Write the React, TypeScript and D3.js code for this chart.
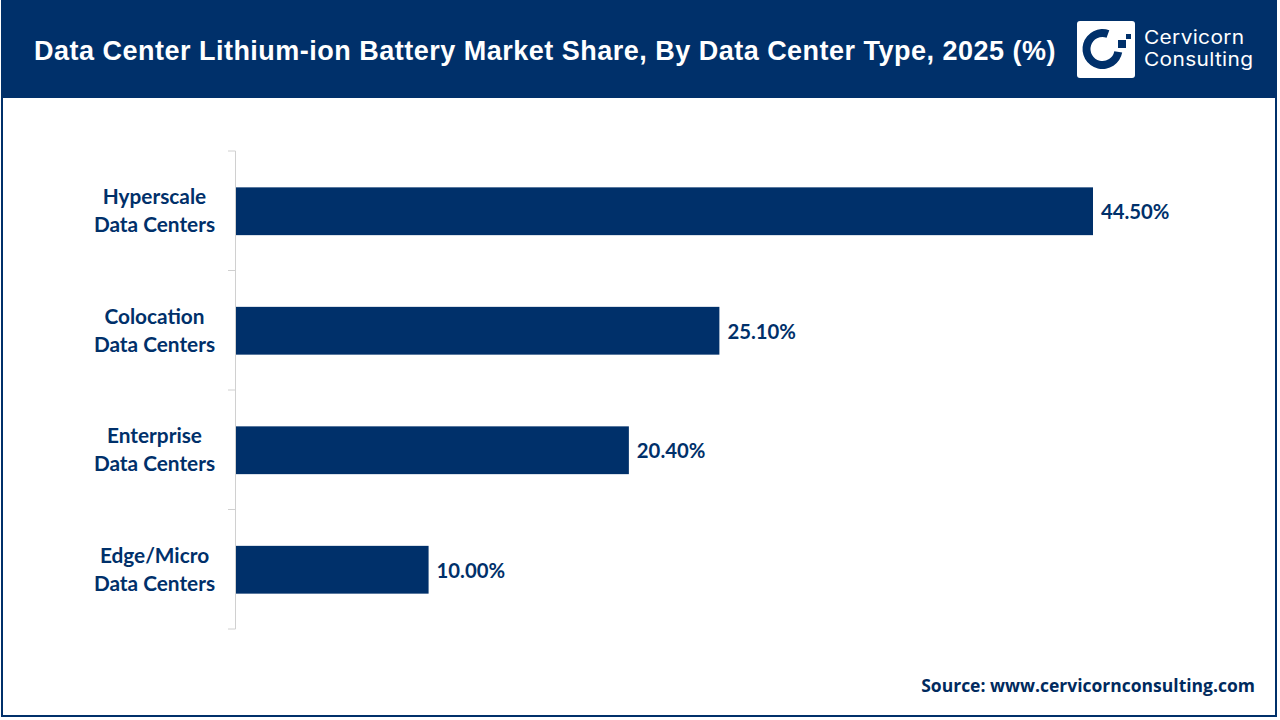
import { useEffect, useRef } from 'react';
import * as d3 from 'd3';

const titleText = 'Data Center Lithium-ion Battery Market Share, By Data Center Type, 2025 (%)';
const sourceText = 'Source: www.cervicornconsulting.com';
const logoLines = ['Cervicorn', 'Consulting'];
const categories = ['Hyperscale|Data Centers', 'Colocation|Data Centers', 'Enterprise|Data Centers', 'Edge/Micro|Data Centers'];
const shares = [44.5, 25.1, 20.4, 10.0];
const navy = '#00306a';
const labelFont = 'Lato, Carlito, sans-serif';

export default function App() {
  const svgRef = useRef<SVGSVGElement>(null);

  useEffect(() => {
    if (!svgRef.current) return;
    const svg = d3.select(svgRef.current);
    svg.selectAll('*').remove();

    // Frame and header band
    svg.append('rect').attr('width', 1280).attr('height', 720).attr('fill', '#fff');
    svg.append('rect')
      .attr('x', 2).attr('y', 1).attr('width', 1274).attr('height', 715)
      .attr('fill', 'none').attr('stroke', navy).attr('stroke-width', 2);
    svg.append('rect').attr('x', 1).attr('y', 0).attr('width', 1276).attr('height', 98).attr('fill', navy);

    svg.append('text')
      .attr('x', 34).attr('y', 59.5)
      .attr('fill', '#fff')
      .attr('font-family', 'Liberation Sans, Arial, sans-serif')
      .attr('font-weight', 700)
      .attr('font-size', 27)
      .attr('letter-spacing', 0.49)
      .text(titleText);

    // Logo
    const logo = svg.append('g').attr('transform', 'translate(1077,21)');
    logo.append('rect').attr('width', 58).attr('height', 57).attr('rx', 3).attr('fill', '#fff');
    logo.append('path')
      .attr('transform', 'translate(25.5,28)')
      .attr('fill', navy)
      .attr('d', d3.arc()({ innerRadius: 12, outerRadius: 20, startAngle: 1.75, endAngle: 6.63 }) || '');
    logo.append('rect').attr('x', 41).attr('y', 19).attr('width', 8).attr('height', 8).attr('fill', navy);
    logo.append('rect').attr('x', 49).attr('y', 13).attr('width', 5).attr('height', 5).attr('fill', navy);
    // Lines sit tight in the logo, so a smaller font is stretched sideways
    logoLines.forEach((t, i) => {
      svg.append('text')
        .attr('transform', `translate(1144,${43.5 + i * 22.5}) scale(1.13,1)`)
        .attr('fill', '#fff')
        .attr('font-family', 'Inter, sans-serif')
        .attr('font-size', 18.5)
        .attr('letter-spacing', 0.3)
        .text(t);
    });

    // Scales
    const x = d3.scaleLinear().domain([0, 44.5]).range([236, 1093]);
    const y = d3.scaleBand().domain(categories).range([151.5, 629.5]).paddingInner(0.6).paddingOuter(0.3);
    const step = (629 - 151) / categories.length;

    // Axis with ticks between bands
    const axis = svg.append('g').attr('stroke', '#d0d0d0').attr('stroke-width', 1);
    axis.append('line').attr('x1', 235.5).attr('x2', 235.5).attr('y1', 151).attr('y2', 629);
    d3.range(categories.length + 1).forEach((i) => {
      axis.append('line')
        .attr('x1', 228).attr('x2', 235.5)
        .attr('y1', 151 + i * step).attr('y2', 151 + i * step);
    });

    // Bars
    svg.selectAll('rect.bar')
      .data(shares)
      .enter()
      .append('rect')
      .attr('class', 'bar')
      .attr('x', x(0))
      .attr('y', (d, i) => y(categories[i]) as number)
      .attr('width', (d) => x(d) - x(0))
      .attr('height', y.bandwidth())
      .attr('fill', navy);

    // Value labels
    svg.selectAll('text.value')
      .data(shares)
      .enter()
      .append('text')
      .attr('class', 'value')
      .attr('x', (d) => x(d) + 8)
      .attr('y', (d, i) => (y(categories[i]) as number) + y.bandwidth() / 2 + 8)
      .attr('fill', navy)
      .attr('font-family', labelFont)
      .attr('font-weight', 700)
      .attr('font-size', 20.3)
      .text((d) => `${d.toFixed(2)}%`);

    // Category labels on two lines
    categories.forEach((c) => {
      const mid = (y(c) as number) + y.bandwidth() / 2;
      c.split('|').forEach((line, j) => {
        svg.append('text')
          .attr('x', 154.5)
          .attr('y', mid - 7 + j * 27.8)
          .attr('text-anchor', 'middle')
          .attr('fill', navy)
          .attr('font-family', labelFont)
          .attr('font-weight', 700)
          .attr('font-size', 20.8)
          .text(line);
      });
    });

    svg.append('text')
      .attr('x', 1255).attr('y', 692)
      .attr('text-anchor', 'end')
      .attr('fill', '#002a5e')
      .attr('font-family', '"Open Sans", sans-serif')
      .attr('font-weight', 700)
      .attr('font-size', 17.5)
      .text(sourceText);
  }, []);

  return (
    <svg
      ref={svgRef}
      width={1280}
      height={720}
      style={{ position: 'absolute', left: 0, top: 0, display: 'block' }}
    />
  );
}
